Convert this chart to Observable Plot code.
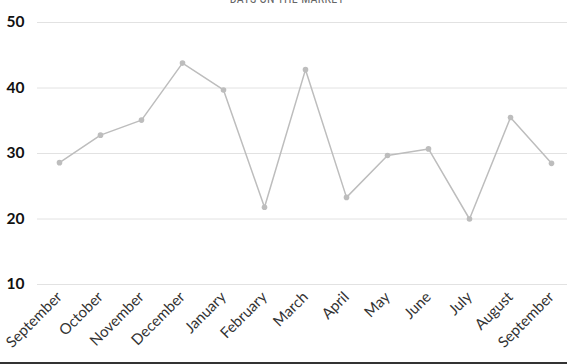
<!DOCTYPE html>
<html>
<head>
<meta charset="utf-8">
<script src="https://cdn.jsdelivr.net/npm/d3@7"></script>
<script src="https://cdn.jsdelivr.net/npm/@observablehq/plot@0.6"></script>
<style>
  html, body { margin: 0; padding: 0; background: #fff; overflow: hidden; }
  #wrap { position: relative; width: 567px; height: 362px; border-bottom: 2px solid #333; overflow: hidden; }
  #title { position: absolute; top: -8px; left: 0; width: 574px; text-align: center; font: 12px "Liberation Sans Narrow", "Roboto Condensed", sans-serif; color: #666; letter-spacing: 0.3px; }
  svg { display: block; }
</style>
</head>
<body>
<div id="wrap">
  <div id="title">DAYS ON THE MARKET</div>
  <div id="chart"></div>
</div>
<script>
const months = ["September","October","November","December","January","February","March","April","May","June","July","August","September "];
const days = [28.6, 32.8, 35.1, 43.8, 39.7, 21.8, 42.8, 23.3, 29.7, 30.7, 20.0, 35.5, 28.5];
const yTicks = [10, 20, 30, 40, 50];

const data = months.map((m, i) => ({month: m, days: days[i]}));

const chart = Plot.plot({
  width: 567,
  height: 362,
  marginLeft: 37,
  marginRight: 0,
  marginTop: 22,
  marginBottom: 78,
  style: {fontFamily: "Lato, sans-serif", background: "#fff", overflow: "visible"},
  x: {type: "point", domain: months, range: [55, 555], padding: 0, label: null},
  y: {domain: [10, 50], label: null},
  marks: [
    Plot.ruleY(yTicks, {stroke: "#e2e2e2", strokeWidth: 1}),
    Plot.axisY({ticks: yTicks, tickSize: 0, tickPadding: 13, fontSize: 15.5, fontWeight: "bold", fill: "#111", label: null, fontFamily: "Lato, sans-serif"}),
    Plot.axisX({tickSize: 0, tickPadding: 10, tickRotate: -45, fontSize: 15, fill: "#333", label: null, tickFormat: d => d.trim(), fontFamily: "Lato, sans-serif"}),
    Plot.line(data, {x: "month", y: "days", stroke: "#bdbdbd", strokeWidth: 1.5}),
    Plot.dot(data, {x: "month", y: "days", r: 2.8, fill: "#bdbdbd", stroke: "none"})
  ]
});
document.getElementById("chart").appendChild(chart);
</script>
</body>
</html>
